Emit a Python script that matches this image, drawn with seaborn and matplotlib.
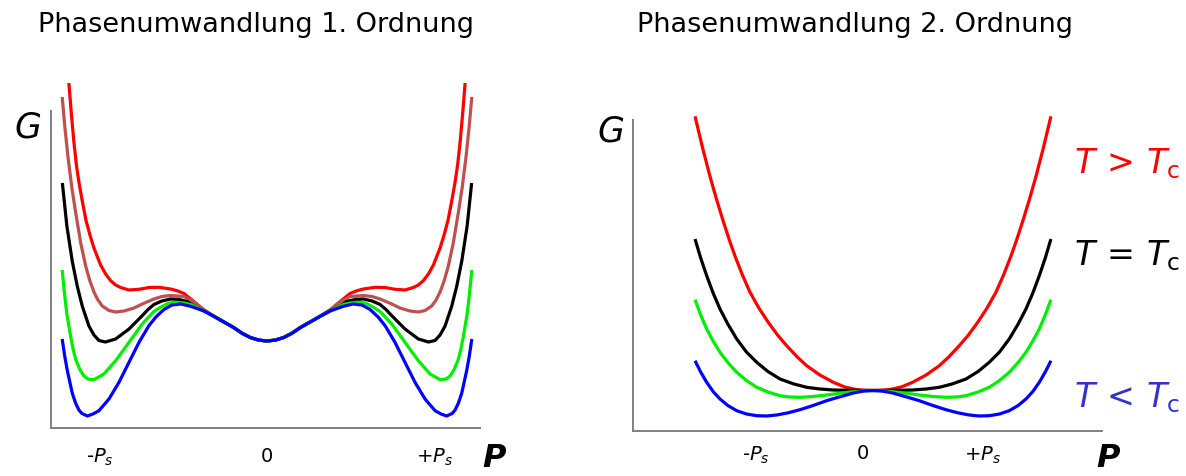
import matplotlib
matplotlib.use("Agg")
import matplotlib.pyplot as plt
import seaborn as sns

# ---------------- first-order transition (left panel) ----------------
p1_red = [-1.186, -1.171, -1.156, -1.141, -1.126, -1.108, -1.084, -1.060, -1.036, -0.996,
          -0.966, -0.936, -0.906, -0.876, -0.826, -0.766, -0.707, -0.647, -0.577, -0.537,
          -0.497, -0.449, -0.377, -0.30, -0.20, -0.15, -0.10, -0.05, 0.0, 0.05, 0.10, 0.15,
          0.20, 0.30, 0.377, 0.449, 0.497, 0.537, 0.577, 0.647, 0.707, 0.766, 0.826, 0.876,
          0.906, 0.936, 0.966, 0.996, 1.036, 1.060, 1.084, 1.108, 1.126, 1.141, 1.156,
          1.171, 1.186]
g1_red = [3.45, 3.14, 2.86, 2.63, 2.46, 2.29, 2.08, 1.93, 1.80, 1.63, 1.54, 1.473, 1.43,
          1.405, 1.38, 1.387, 1.405, 1.407, 1.39, 1.372, 1.345, 1.28, 1.18, 1.10, 1.005,
          0.948, 0.905, 0.879, 0.87, 0.879, 0.905, 0.948, 1.005, 1.10, 1.18, 1.28, 1.345,
          1.372, 1.39, 1.407, 1.405, 1.387, 1.38, 1.405, 1.43, 1.473, 1.54, 1.63, 1.80, 1.93,
          2.08, 2.29, 2.46, 2.63, 2.86, 3.14, 3.45]

p1_brown = [-1.226, -1.210, -1.192, -1.168, -1.144, -1.114, -1.084, -1.060, -1.036, -1.012,
            -0.986, -0.946, -0.906, -0.856, -0.796, -0.747, -0.677, -0.629, -0.577, -0.497,
            -0.437, -0.377, -0.30, -0.20, -0.15, -0.10, -0.05, 0.0, 0.05, 0.10, 0.15, 0.20,
            0.30, 0.377, 0.437, 0.497, 0.577, 0.629, 0.677, 0.747, 0.796, 0.856, 0.906,
            0.946, 0.986, 1.012, 1.036, 1.060, 1.084, 1.114, 1.144, 1.168, 1.192, 1.210,
            1.226]
g1_brown = [3.31, 3.01, 2.72, 2.40, 2.14, 1.84, 1.61, 1.47, 1.36, 1.28, 1.22, 1.175, 1.16,
            1.17, 1.20, 1.24, 1.29, 1.315, 1.325, 1.315, 1.26, 1.18, 1.10, 1.005, 0.948,
            0.905, 0.879, 0.87, 0.879, 0.905, 0.948, 1.005, 1.10, 1.18, 1.26, 1.315, 1.325,
            1.315, 1.29, 1.24, 1.20, 1.17, 1.16, 1.175, 1.22, 1.28, 1.36, 1.47, 1.61, 1.84,
            2.14, 2.40, 2.72, 3.01, 3.31]

p1_black = [-1.225, -1.198, -1.166, -1.136, -1.106, -1.066, -1.036, -1.006, -0.967, -0.906,
            -0.826, -0.747, -0.712, -0.677, -0.629, -0.577, -0.527, -0.477, -0.437, -0.377,
            -0.30, -0.20, -0.15, -0.10, -0.05, 0.0, 0.05, 0.10, 0.15, 0.20, 0.30, 0.377,
            0.437, 0.477, 0.527, 0.577, 0.629, 0.677, 0.712, 0.747, 0.826, 0.906, 0.967,
            1.006, 1.036, 1.066, 1.106, 1.136, 1.166, 1.198, 1.225]
g1_black = [2.45, 2.02, 1.67, 1.42, 1.22, 1.02, 0.93, 0.875, 0.86, 0.89, 0.99, 1.123, 1.185,
            1.235, 1.27, 1.29, 1.285, 1.265, 1.22, 1.17, 1.10, 1.005, 0.948, 0.905, 0.879,
            0.87, 0.879, 0.905, 0.948, 1.005, 1.10, 1.17, 1.22, 1.265, 1.285, 1.29, 1.27,
            1.235, 1.185, 1.123, 0.99, 0.89, 0.86, 0.875, 0.93, 1.02, 1.22, 1.42, 1.67, 2.02,
            2.45]

p1_green = [-1.226, -1.212, -1.198, -1.176, -1.16, -1.144, -1.12, -1.096, -1.072, -1.036,
            -0.976, -0.906, -0.826, -0.747, -0.677, -0.629, -0.587, -0.539, -0.497, -0.457,
            -0.377, -0.30, -0.20, -0.15, -0.10, -0.05, 0.0, 0.05, 0.10, 0.15, 0.20, 0.30,
            0.377, 0.457, 0.497, 0.539, 0.587, 0.629, 0.677, 0.747, 0.826, 0.906, 0.976,
            1.036, 1.072, 1.096, 1.12, 1.144, 1.16, 1.176, 1.198, 1.212, 1.226]
g1_green = [1.58, 1.34, 1.14, 0.92, 0.785, 0.68, 0.585, 0.52, 0.49, 0.483, 0.54, 0.673,
            0.857, 1.04, 1.165, 1.215, 1.25, 1.257, 1.25, 1.235, 1.17, 1.10, 1.005, 0.948,
            0.905, 0.879, 0.87, 0.879, 0.905, 0.948, 1.005, 1.10, 1.17, 1.235, 1.25, 1.257,
            1.25, 1.215, 1.165, 1.04, 0.857, 0.673, 0.54, 0.483, 0.49, 0.52, 0.585, 0.68,
            0.785, 0.92, 1.14, 1.34, 1.58]

p1_blue = [-1.226, -1.211, -1.196, -1.166, -1.146, -1.126, -1.108, -1.075, -1.042, -1.006,
           -0.946, -0.886, -0.826, -0.766, -0.707, -0.665, -0.617, -0.569, -0.515, -0.457,
           -0.377, -0.30, -0.20, -0.15, -0.10, -0.05, 0.0, 0.05, 0.10, 0.15, 0.20, 0.30,
           0.377, 0.457, 0.515, 0.569, 0.617, 0.665, 0.707, 0.766, 0.826, 0.886, 0.946,
           1.006, 1.042, 1.075, 1.108, 1.126, 1.146, 1.166, 1.196, 1.211, 1.226]
g1_blue = [0.89, 0.72, 0.58, 0.35, 0.25, 0.18, 0.145, 0.12, 0.14, 0.173, 0.29, 0.457, 0.657,
           0.857, 1.023, 1.11, 1.185, 1.23, 1.24, 1.217, 1.17, 1.10, 1.005, 0.948, 0.905,
           0.879, 0.87, 0.879, 0.905, 0.948, 1.005, 1.10, 1.17, 1.217, 1.24, 1.23, 1.185,
           1.11, 1.023, 0.857, 0.657, 0.457, 0.29, 0.173, 0.14, 0.12, 0.145, 0.18, 0.25,
           0.35, 0.58, 0.72, 0.89]

# ---------------- second-order transition (right panel) ----------------
p2_red = [-1.575, -1.51, -1.442, -1.385, -1.325, -1.27, -1.221, -1.155, -1.088, -1.01,
          -0.927, -0.845, -0.764, -0.67, -0.587, -0.47, -0.351, -0.25, -0.15, -0.08, 0.0,
          0.08, 0.15, 0.25, 0.351, 0.47, 0.587, 0.67, 0.764, 0.845, 0.927, 1.01, 1.088,
          1.155, 1.221, 1.27, 1.325, 1.385, 1.442, 1.51, 1.575]
g2_red = [3.147, 2.84, 2.543, 2.318, 2.096, 1.906, 1.749, 1.558, 1.387, 1.23, 1.087, 0.96,
          0.853, 0.74, 0.653, 0.56, 0.487, 0.44, 0.415, 0.408, 0.405, 0.408, 0.415, 0.44,
          0.487, 0.56, 0.653, 0.74, 0.853, 0.96, 1.087, 1.23, 1.387, 1.558, 1.749, 1.906,
          2.096, 2.318, 2.543, 2.84, 3.147]

p2_black = [-1.575, -1.525, -1.472, -1.415, -1.354, -1.285, -1.206, -1.12, -1.029, -0.93,
            -0.823, -0.7, -0.587, -0.47, -0.351, -0.2, 0.0, 0.2, 0.351, 0.47, 0.587, 0.7,
            0.823, 0.93, 1.029, 1.12, 1.206, 1.285, 1.354, 1.415, 1.472, 1.525, 1.575]
g2_black = [1.92, 1.73, 1.553, 1.38, 1.22, 1.07, 0.92, 0.79, 0.687, 0.595, 0.52, 0.47,
            0.437, 0.42, 0.41, 0.406, 0.405, 0.406, 0.41, 0.42, 0.437, 0.47, 0.52, 0.595,
            0.687, 0.79, 0.92, 1.07, 1.22, 1.38, 1.553, 1.73, 1.92]

p2_green = [-1.575, -1.525, -1.472, -1.415, -1.354, -1.285, -1.206, -1.12, -1.029, -0.93,
            -0.823, -0.74, -0.646, -0.53, -0.41, -0.29, -0.174, -0.08, 0.0, 0.08, 0.174,
            0.29, 0.41, 0.53, 0.646, 0.74, 0.823, 0.93, 1.029, 1.12, 1.206, 1.285, 1.354,
            1.415, 1.472, 1.525, 1.575]
g2_green = [1.313, 1.16, 1.02, 0.9, 0.787, 0.685, 0.587, 0.505, 0.437, 0.39, 0.353, 0.34,
            0.337, 0.345, 0.36, 0.378, 0.393, 0.402, 0.405, 0.402, 0.393, 0.378, 0.36, 0.345,
            0.337, 0.34, 0.353, 0.39, 0.437, 0.505, 0.587, 0.685, 0.787, 0.9, 1.02, 1.16,
            1.313]

p2_blue = [-1.575, -1.525, -1.472, -1.415, -1.354, -1.285, -1.206, -1.12, -1.029, -0.94,
           -0.852, -0.75, -0.646, -0.53, -0.41, -0.29, -0.174, -0.08, 0.0, 0.08, 0.174,
           0.29, 0.41, 0.53, 0.646, 0.75, 0.852, 0.94, 1.029, 1.12, 1.206, 1.285, 1.354,
           1.415, 1.472, 1.525, 1.575]
g2_blue = [0.703, 0.59, 0.487, 0.395, 0.32, 0.255, 0.203, 0.17, 0.153, 0.15, 0.16, 0.182,
           0.213, 0.255, 0.303, 0.343, 0.38, 0.40, 0.405, 0.40, 0.38, 0.343, 0.303, 0.255,
           0.213, 0.182, 0.16, 0.15, 0.153, 0.17, 0.203, 0.255, 0.32, 0.395, 0.487, 0.59,
           0.703]

# tick labels on the polarisation axis
tick_labels = ["-$P_s$", "0", "+$P_s$"]
left_ticks = [-1.0, 0.0, 1.0]
right_ticks = [-1.04, -0.09, 0.97]

titles = ["Phasenumwandlung 1. Ordnung", "Phasenumwandlung 2. Ordnung"]
temp_labels = [r"$T\,>\,T_\mathrm{c}$", r"$T\,=\,T_\mathrm{c}$", r"$T\,<\,T_\mathrm{c}$"]

RED, BROWN, BLACK, GREEN, BLUE = "#ff0000", "#c05050", "#000000", "#00ee00", "#0000ff"
LABEL_BLUE = "#3232c8"
AXIS_GREY = "#808080"

sns.set_theme(style="white")
plt.rcParams["font.family"] = ["DejaVu Sans"]
plt.rcParams["mathtext.fontset"] = "dejavusans"
plt.rcParams["text.color"] = "black"
plt.rcParams["xtick.labelcolor"] = "black"

W, H = 1186, 477
fig = plt.figure(figsize=(W / 100, H / 100), dpi=100)


def px(x, y):
    return x / W, 1 - y / H


def style_axes(ax, ticks, spine_top, pad):
    for side in ("top", "right"):
        ax.spines[side].set_visible(False)
    for side in ("left", "bottom"):
        ax.spines[side].set_color(AXIS_GREY)
        ax.spines[side].set_linewidth(1.4)
    ax.spines["left"].set_bounds(0, spine_top)
    ax.set_yticks([])
    ax.set_xticks(ticks)
    ax.set_xticklabels(tick_labels, fontsize=14, color="black")
    ax.tick_params(axis="x", length=0, pad=pad)
    ax.set_xlabel("")
    ax.set_ylabel("")
    ax.patch.set_alpha(0)


line_kw = dict(sort=False, estimator=None, linewidth=2.3,
               solid_joinstyle="round", solid_capstyle="butt")

# left panel
ax1 = fig.add_axes([51 / W, 48 / H, 429 / W, 354 / H])
for p, g, c in [(p1_red, g1_red, RED), (p1_brown, g1_brown, BROWN),
                (p1_black, g1_black, BLACK), (p1_green, g1_green, GREEN),
                (p1_blue, g1_blue, BLUE)]:
    sns.lineplot(x=p, y=g, color=c, ax=ax1, **line_kw)
ax1.set_xlim(-1.293, 1.275)
ax1.set_ylim(0, 3.54)
style_axes(ax1, left_ticks, 3.17, 13)

# right panel
ax2 = fig.add_axes([633 / W, 45 / H, 469 / W, 332 / H])
for p, g, c in [(p2_red, g2_red, RED), (p2_black, g2_black, BLACK),
                (p2_green, g2_green, GREEN), (p2_blue, g2_blue, BLUE)]:
    sns.lineplot(x=p, y=g, color=c, ax=ax2, **line_kw)
ax2.set_xlim(-2.124, 2.027)
ax2.set_ylim(0, 3.32)
style_axes(ax2, right_ticks, 3.11, 9)

# titles
fig.text(*px(256, 32), titles[0], ha="center", va="baseline", fontsize=19.5)
fig.text(*px(855, 32), titles[1], ha="center", va="baseline", fontsize=19.5)

# axis letters
for (x, y) in [(28, 128), (611, 131)]:
    fig.text(*px(x, y), "G", ha="center", va="center", fontsize=25, style="italic")
for (x, y) in [(494, 459), (1108, 459)]:
    fig.text(*px(x, y), "P", ha="center", va="center", fontsize=23,
             style="italic", fontweight="bold")

# temperature labels
for (y, txt, c) in [(173, temp_labels[0], RED), (265, temp_labels[1], BLACK),
                    (407, temp_labels[2], LABEL_BLUE)]:
    fig.text(*px(1074, y), txt, ha="left", va="baseline", fontsize=24, color=c)

fig.savefig("out.png", dpi=100)
